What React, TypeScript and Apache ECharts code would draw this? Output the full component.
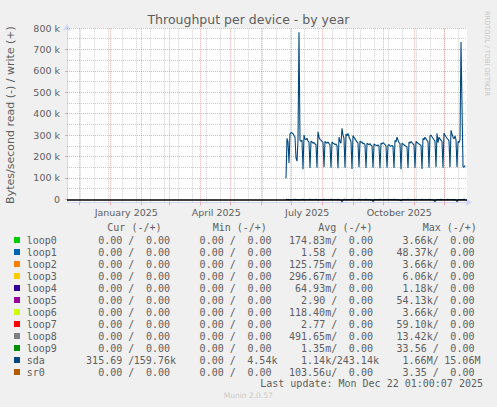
import React, { useEffect, useRef } from "react";
import * as echarts from "echarts";

const DAY = 86400000;
const X_START = Date.UTC(2024, 10, 19);
const X_END = Date.UTC(2025, 11, 24);
const DATA_START = Date.UTC(2025, 5, 26);

// sda write (k bytes/s), daily, from 2025-06-26
const sdaWriteK = [
  98, 285, 268, 170, 305, 312, 310, 306, 298, 290,
  192, 178, 275, 780, 275, 270, 276, 140, 300, 282,
  278, 285, 272, 268, 146, 272, 268, 262, 265, 258,
  255, 148, 315, 290, 280, 276, 270, 268, 150, 270,
  265, 262, 268, 260, 255, 148, 268, 262, 260, 255,
  258, 250, 145, 290, 270, 262, 332, 300, 285, 148,
  305, 296, 308, 292, 280, 270, 142, 298, 290, 282,
  275, 268, 262, 150, 272, 266, 268, 260, 262, 255,
  146, 262, 258, 255, 260, 252, 250, 148, 258, 255,
  252, 250, 254, 248, 145, 262, 258, 265, 260, 255,
  250, 147, 252, 256, 250, 248, 252, 246, 146, 275,
  268, 290, 276, 265, 260, 140, 262, 258, 255, 250,
  248, 245, 146, 268, 262, 270, 265, 258, 255, 148,
  270, 265, 262, 258, 255, 252, 142, 285, 278, 290,
  282, 275, 270, 148, 295, 300, 292, 285, 278, 272,
  150, 308, 265, 290, 282, 275, 270, 148, 310, 300,
  292, 285, 280, 272, 150, 322, 305, 290, 282, 296,
  278, 150, 270, 265, 280, 735, 440, 152, 150, 158,
];

// sda read (k bytes/s), daily, drawn below zero
const sdaReadK = [
  0.4, 0.9, 1.2, 0.6, 1.5, 0.8, 0.7, 1.1, 0.9, 0.5,
  0.6, 1.0, 1.8, 2.4, 0.9, 0.7, 0.6, 0.5, 1.3, 0.8,
  0.7, 0.9, 0.6, 1.1, 0.5, 0.8, 1.2, 0.9, 0.6, 0.7,
  0.5, 0.6, 1.4, 0.8, 0.9, 0.7, 0.6, 1.0, 0.5, 0.8,
  0.9, 0.7, 1.1, 0.6, 0.8, 0.5, 0.6, 1.2, 0.9, 0.7,
  0.8, 0.6, 0.5, 1.3, 1.9, 2.6, 13.0, 1.4, 0.8, 0.5,
  0.9, 1.0, 0.8, 0.7, 0.6, 0.9, 0.5, 1.1, 0.8, 0.7,
  0.6, 0.9, 0.7, 0.5, 0.8, 1.0, 0.7, 0.6, 0.9, 0.8,
  0.5, 0.7, 0.9, 0.6, 1.2, 1.8, 2.2, 11.0, 1.3, 0.7,
  0.6, 0.8, 0.9, 0.7, 0.5, 0.8, 1.0, 0.6, 0.7, 0.9,
  0.8, 0.6, 0.5, 0.9, 1.1, 0.7, 0.6, 0.8, 0.5, 0.9,
  1.0, 0.7, 1.4, 2.0, 3.1, 7.0, 1.2, 0.8, 0.6, 0.7,
  0.9, 0.6, 0.5, 0.8, 1.0, 0.7, 0.9, 0.6, 0.8, 0.5,
  0.7, 0.9, 0.6, 1.1, 0.8, 0.7, 0.5, 0.9, 0.6, 0.8,
  1.0, 0.7, 0.6, 0.5, 0.9, 1.2, 1.6, 2.3, 3.0, 11.0,
  1.5, 0.8, 0.7, 0.6, 0.9, 0.5, 0.8, 1.0, 0.7, 0.6,
  0.9, 0.8, 0.5, 0.7, 0.9, 1.1, 0.6, 0.8, 1.3, 2.1,
  2.8, 11.0, 1.6, 0.9, 0.7, 2.5, 1.2, 0.6, 0.4, 0.3,
];

const yTickValues = [0, 100000, 200000, 300000, 400000, 500000, 600000, 700000, 800000];
const yMajorGrid = [100000, 200000, 300000, 400000, 500000, 600000, 700000, 800000];
const yMinorGrid = [50000, 150000, 250000, 350000, 450000, 550000, 650000, 750000];

const monthStarts = [
  Date.UTC(2024, 11, 1), Date.UTC(2025, 0, 1), Date.UTC(2025, 1, 1), Date.UTC(2025, 2, 1),
  Date.UTC(2025, 3, 1), Date.UTC(2025, 4, 1), Date.UTC(2025, 5, 1), Date.UTC(2025, 6, 1),
  Date.UTC(2025, 7, 1), Date.UTC(2025, 8, 1), Date.UTC(2025, 9, 1), Date.UTC(2025, 10, 1),
  Date.UTC(2025, 11, 1),
];
const minorGridDates = [
  Date.UTC(2024, 11, 2), Date.UTC(2024, 11, 16), Date.UTC(2024, 11, 30),
  Date.UTC(2025, 0, 13), Date.UTC(2025, 0, 27), Date.UTC(2025, 1, 10), Date.UTC(2025, 1, 24),
  Date.UTC(2025, 2, 10), Date.UTC(2025, 2, 24), Date.UTC(2025, 3, 7), Date.UTC(2025, 3, 21),
  Date.UTC(2025, 4, 5), Date.UTC(2025, 4, 19), Date.UTC(2025, 5, 2), Date.UTC(2025, 5, 16),
  Date.UTC(2025, 5, 30), Date.UTC(2025, 6, 14), Date.UTC(2025, 6, 28), Date.UTC(2025, 7, 11),
  Date.UTC(2025, 7, 25), Date.UTC(2025, 8, 8), Date.UTC(2025, 8, 22), Date.UTC(2025, 9, 6),
  Date.UTC(2025, 9, 20), Date.UTC(2025, 10, 3), Date.UTC(2025, 10, 17), Date.UTC(2025, 11, 1),
  Date.UTC(2025, 11, 15),
];

const xLabelDates = [
  Date.UTC(2025, 0, 17, 6), Date.UTC(2025, 3, 17, 6), Date.UTC(2025, 6, 17, 6), Date.UTC(2025, 9, 17, 6),
];
const xLabelTexts = ["January 2025", "April 2025", "July 2025", "October 2025"];

const legendNames = ["loop0", "loop1", "loop2", "loop3", "loop4", "loop5", "loop6", "loop7", "loop8", "loop9", "sda", "sr0"];
const legendColors = ["#00CC00", "#0066B3", "#FF8000", "#FFCC00", "#330099", "#990099", "#CCFF00", "#FF0000", "#808080", "#008F00", "#00487D", "#B35A00"];
const curRead = ["0.00", "0.00", "0.00", "0.00", "0.00", "0.00", "0.00", "0.00", "0.00", "0.00", "315.69", "0.00"];
const curWrite = ["0.00", "0.00", "0.00", "0.00", "0.00", "0.00", "0.00", "0.00", "0.00", "0.00", "159.76k", "0.00"];
const minRead = ["0.00", "0.00", "0.00", "0.00", "0.00", "0.00", "0.00", "0.00", "0.00", "0.00", "0.00", "0.00"];
const minWrite = ["0.00", "0.00", "0.00", "0.00", "0.00", "0.00", "0.00", "0.00", "0.00", "0.00", "4.54k", "0.00"];
const avgRead = ["174.83m", "1.58", "125.75m", "296.67m", "64.93m", "2.90", "118.40m", "2.77", "491.65m", "1.35m", "1.14k", "103.56u"];
const avgWrite = ["0.00", "0.00", "0.00", "0.00", "0.00", "0.00", "0.00", "0.00", "0.00", "0.00", "243.14k", "0.00"];
const maxRead = ["3.66k", "48.37k", "3.66k", "6.06k", "1.18k", "54.13k", "3.66k", "59.10k", "13.42k", "33.56", "1.66M", "3.35"];
const maxWrite = ["0.00", "0.00", "0.00", "0.00", "0.00", "0.00", "0.00", "0.00", "0.00", "0.00", "15.06M", "0.00"];
const headers = ["Cur (-/+)", "Min (-/+)", "Avg (-/+)", "Max (-/+)"];

const TITLE = "Throughput per device - by year";
const Y_NAME = "Bytes/second read (-) / write (+)";
const LAST_UPDATE = "Last update: Mon Dec 22 01:00:07 2025";
const FOOTER = "Munin 2.0.57";
const WATERMARK = "RRDTOOL / TOBI OETIKER";

const TEXT = "#5e5e5e";
const SANS = "DejaVu Sans, sans-serif";
const MONO = "DejaVu Sans Mono, monospace";
const RED_GRID = "rgba(230,60,60,0.42)";
const GRAY_GRID = "rgba(128,128,128,0.38)";
const AXIS = "#CFD6F8";

function buildGraphic(chart: any) {
  const g: any[] = [];
  g.push({ type: "text", x: 248.5, y: 19.5, style: { text: TITLE, fontSize: 12.5, fontFamily: SANS, fill: TEXT, align: "center", verticalAlign: "middle" } });
  g.push({ type: "text", x: 10.7, y: 115, rotation: Math.PI / 2, style: { text: Y_NAME, fontSize: 11, fontFamily: SANS, fill: TEXT, align: "center", verticalAlign: "middle" } });
  g.push({ type: "text", x: 487.3, y: 53.5, rotation: -Math.PI / 2, style: { text: WATERMARK, fontSize: 6.6, fontFamily: SANS, fill: "#c4c4c4", align: "center", verticalAlign: "middle" } });

  // x-axis labels and ticks positioned through the chart's own time scale
  const axisY = chart.convertToPixel({ yAxisIndex: 0 }, -14000);
  xLabelDates.forEach((t, i) => {
    const px = chart.convertToPixel({ xAxisIndex: 0 }, t);
    g.push({ type: "text", x: px, y: axisY + 10, style: { text: xLabelTexts[i], fontSize: 9.5, fontFamily: SANS, fill: TEXT, align: "center", verticalAlign: "middle" } });
  });
  monthStarts.forEach((t) => {
    const px = Math.round(chart.convertToPixel({ xAxisIndex: 0 }, t)) + 0.5;
    g.push({ type: "line", shape: { x1: px, y1: axisY, x2: px, y2: axisY + 3 }, style: { stroke: RED_GRID, lineWidth: 1 } });
  });

  const headerX = [107.3, 212.7, 318.3, 422.7];
  headers.forEach((h, i) => {
    g.push({ type: "text", x: headerX[i], y: 227.5, style: { text: h, fontSize: 10, fontFamily: MONO, fill: TEXT, align: "left", verticalAlign: "middle" } });
  });

  const X0 = 26.7;
  const CW = 5.97;
  const cols = [
    { r: curRead, w: curWrite, u1: 16, s: 17, u2: 24 },
    { r: minRead, w: minWrite, u1: 33, s: 34, u2: 41 },
    { r: avgRead, w: avgWrite, u1: 50, s: 51, u2: 58 },
    { r: maxRead, w: maxWrite, u1: 67, s: 68, u2: 75 },
  ];
  const valText = (s: string, unitCol: number, y: number) => {
    const hasUnit = /[A-Za-z]$/.test(s);
    const right = X0 + (hasUnit ? unitCol + 1 : unitCol) * CW;
    return { type: "text", x: right, y, style: { text: s, fontSize: 10, fontFamily: MONO, fill: TEXT, align: "right", verticalAlign: "middle" } };
  };
  legendNames.forEach((name, i) => {
    const y = 240 + 12 * i;
    g.push({ type: "rect", shape: { x: 14, y: y - 3, width: 6, height: 6 }, style: { fill: legendColors[i] } });
    g.push({ type: "text", x: X0, y, style: { text: name, fontSize: 10, fontFamily: MONO, fill: TEXT, align: "left", verticalAlign: "middle" } });
    cols.forEach((c) => {
      g.push(valText(c.r[i], c.u1, y));
      g.push({ type: "text", x: X0 + c.s * CW, y, style: { text: "/", fontSize: 10, fontFamily: MONO, fill: TEXT, align: "left", verticalAlign: "middle" } });
      g.push(valText(c.w[i], c.u2, y));
    });
  });
  g.push({ type: "text", x: 483, y: 383.5, style: { text: LAST_UPDATE, fontSize: 10, fontFamily: MONO, fill: TEXT, align: "right", verticalAlign: "middle" } });
  g.push({ type: "text", x: 248.3, y: 395.8, style: { text: FOOTER, fontSize: 7.5, fontFamily: SANS, fill: "#cacaca", align: "center", verticalAlign: "middle" } });
  return g;
}

export default function App() {
  const ref = useRef<HTMLDivElement>(null);
  useEffect(() => {
    document.body.style.margin = "0";
    const chart = echarts.init(ref.current!, null, { renderer: "svg" });
    const writeData = sdaWriteK.map((v, i) => [DATA_START + i * DAY, v * 1000]);
    const readData = sdaReadK.map((v, i) => [DATA_START + i * DAY, -v * 1000]);

    const gridLines: any[] = [];
    minorGridDates.forEach((t) => gridLines.push({ xAxis: t, lineStyle: { color: GRAY_GRID, type: [1, 1], width: 1 } }));
    yMinorGrid.forEach((v) => gridLines.push({ yAxis: v, lineStyle: { color: GRAY_GRID, type: [1, 1], width: 1 } }));
    monthStarts.forEach((t) => gridLines.push({ xAxis: t, lineStyle: { color: RED_GRID, type: [1, 1], width: 1 } }));
    yMajorGrid.forEach((v) => gridLines.push({ yAxis: v, lineStyle: { color: RED_GRID, type: [1, 1], width: 1 } }));

    const option: any = {
      animation: false,
      backgroundColor: "#F0F0F0",
      grid: { left: 67, top: 28, width: 400, height: 174.3, show: true, backgroundColor: "#FFFFFF", borderWidth: 0 },
      xAxis: {
        type: "time",
        min: X_START,
        max: X_END,
        axisLine: { show: true, onZero: false, lineStyle: { color: AXIS, width: 1 }, symbol: ["none", "arrow"], symbolSize: [6, 7], symbolOffset: [0, 5] },
        axisTick: { show: false },
        axisLabel: { show: false },
        splitLine: { show: false },
      },
      yAxis: {
        type: "value",
        min: -14000,
        max: 800000,
        axisLine: { show: true, lineStyle: { color: AXIS, width: 1 }, symbol: ["none", "arrow"], symbolSize: [6, 7], symbolOffset: [0, 4] },
        axisTick: { show: true, customValues: yTickValues, length: 2, lineStyle: { color: RED_GRID } },
        axisLabel: {
          customValues: yTickValues,
          formatter: (v: number) => (v === 0 ? "0" : `${Math.round(v / 1000)} k`),
          fontSize: 9.5,
          fontFamily: SANS,
          color: TEXT,
          margin: 7,
        },
        splitLine: { show: false },
      },
      series: [
        {
          name: "sda write",
          type: "line",
          data: writeData,
          showSymbol: false,
          symbol: "none",
          lineStyle: { color: "#00487D", width: 1.1 },
          z: 2,
          markLine: { silent: true, z: 1, symbol: ["none", "none"], label: { show: false }, animation: false, data: gridLines },
        },
        {
          name: "sda read",
          type: "line",
          data: readData,
          showSymbol: false,
          symbol: "none",
          lineStyle: { color: "#00487D", width: 1.1 },
          z: 2,
          markLine: {
            silent: true,
            z: 3,
            symbol: ["none", "none"],
            label: { show: false },
            animation: false,
            data: [{ yAxis: 0, lineStyle: { color: "#000000", type: "solid", width: 1.6 } }],
          },
        },
      ],
    };
    chart.setOption(option);
    chart.setOption({ graphic: buildGraphic(chart) });
    return () => chart.dispose();
  }, []);
  return <div ref={ref} style={{ position: "absolute", left: 0, top: 0, width: 497, height: 407 }} />;
}
